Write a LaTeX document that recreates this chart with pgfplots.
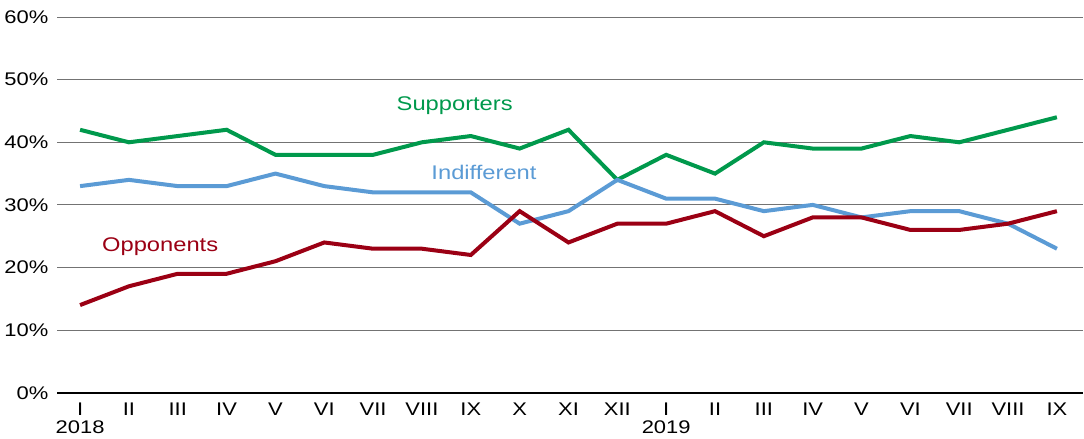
\documentclass[border=0pt]{standalone}
\usepackage{fontspec}
\setmainfont{Liberation Sans}[FakeStretch=1.2]
\usepackage{pgfplots}
\pgfplotsset{compat=1.18}
\definecolor{supgreen}{RGB}{0,153,76}
\definecolor{indblue}{RGB}{91,155,213}
\definecolor{oppred}{RGB}{155,0,20}
\begin{document}
\begin{tikzpicture}
\begin{axis}[
  scale only axis,
  width=768pt, height=281.25pt,
  xmin=-0.47, xmax=20.53,
  ymin=0, ymax=60,
  axis lines*=left,
  y axis line style={draw=none},
  x axis line style={black, line width=1.8pt},
  major tick length=0pt,
  ytick={0,10,20,30,40,50,60},
  yticklabels={0\%,10\%,20\%,30\%,40\%,50\%,60\%},
  ymajorgrids,
  grid style={black!55, line width=0.8pt},
  xtick={0,...,20},
  xticklabels={I\\2018,II,III,IV,V,VI,VII,VIII,IX,X,XI,XII,I\\2019,II,III,IV,V,VI,VII,VIII,IX},
  xticklabel style={align=center, font=\fontsize{13.7}{13.5}\selectfont, yshift=-4pt},
  yticklabel style={font=\fontsize{13.7}{16}\selectfont, xshift=-3pt},
  clip=false,
]
\addplot[supgreen, line width=3pt] coordinates {
(0,42)(1,40)(2,41)(3,42)(4,38)(5,38)(6,38)(7,40)(8,41)(9,39)(10,42)(11,34)(12,38)(13,35)(14,40)(15,39)(16,39)(17,41)(18,40)(19,42)(20,44)};
\addplot[indblue, line width=3pt] coordinates {
(0,33)(1,34)(2,33)(3,33)(4,35)(5,33)(6,32)(7,32)(8,32)(9,27)(10,29)(11,34)(12,31)(13,31)(14,29)(15,30)(16,28)(17,29)(18,29)(19,27)(20,23)};
\addplot[oppred, line width=3pt] coordinates {
(0,14)(1,17)(2,19)(3,19)(4,21)(5,24)(6,23)(7,23)(8,22)(9,29)(10,24)(11,27)(12,27)(13,29)(14,25)(15,28)(16,28)(17,26)(18,26)(19,27)(20,29)};
\node[supgreen, font=\fontsize{14.8}{16}\selectfont] at (axis cs:7.67,45.9) {Supporters};
\node[indblue, font=\fontsize{14.8}{16}\selectfont] at (axis cs:8.27,35.2) {Indifferent};
\node[oppred, font=\fontsize{14.8}{16}\selectfont] at (axis cs:1.64,23.3) {Opponents};
\path (rel axis cs:0,1) ++(0,12.8pt) coordinate (toppad);
\end{axis}
\end{tikzpicture}
\end{document}
